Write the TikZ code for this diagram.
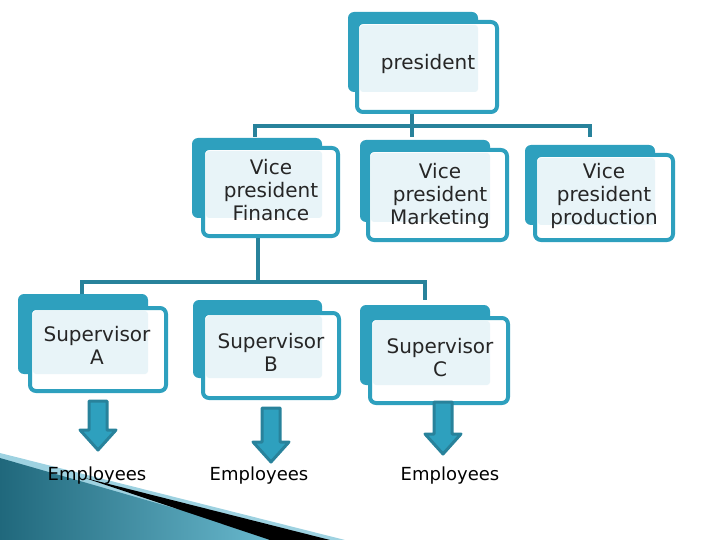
\documentclass[tikz,border=0pt]{standalone}
\usepackage{fontspec}
\setmainfont{DejaVu Sans}
\definecolor{teal1}{RGB}{46,160,190}
\definecolor{teal2}{RGB}{40,130,155}
\definecolor{pale}{RGB}{232,244,248}
\begin{document}
\begin{tikzpicture}[x=1pt,y=-1pt,
  back/.style={fill=teal1,rounded corners=6pt},
  front/.style={draw=teal1,line width=4pt,fill=white,rounded corners=6pt},
  inner/.style={fill=pale,rounded corners=3pt},
  lbl/.style={align=center,font=\fontsize{20}{23}\selectfont,text=black!85},
  conn/.style={draw=teal2,line width=4pt},
  arr/.style={fill=teal1,draw=teal2,line width=3pt,line join=round},
  emp/.style={font=\fontsize{18}{20}\selectfont}]
\useasboundingbox (0,0) rectangle (720,540);
% decoration
\fill[pale!60!teal1] (0,453) -- (345,540) -- (0,540) -- cycle;
\shade[left color=teal2!80!black,right color=teal1!70] (0,458) -- (285,540) -- (0,540) -- cycle;
\fill[black] (85,478) -- (330,540) -- (270,540) -- cycle;
% box macro
\newcommand{\orgbox}[8]{%
  \fill[back] (#1,#2) rectangle (#3,#4);
  \draw[front] (#5,#6) rectangle (#7,#8);
  \fill[inner] (#5+3,#6+3) rectangle (#3,#4);}
\orgbox{348}{12}{478}{92}{357}{22}{497}{112}
\orgbox{192}{138}{322}{218}{203}{148}{338}{236}
\orgbox{360}{140}{490}{222}{368}{150}{507}{240}
\orgbox{525}{145}{655}{225}{535}{155}{673}{240}
\orgbox{18}{294}{148}{374}{30}{308}{166}{391}
\orgbox{193}{300}{322}{378}{203}{313}{339}{398}
\orgbox{360}{305}{490}{385}{370}{318}{508}{403}
\node[lbl] (p) at (428,64) {president};
\node[lbl] (vf) at (271,190) {Vice\\president\\Finance};
\node[lbl] (vm) at (440,196) {Vice\\president\\Marketing};
\node[lbl] (vp) at (604,196) {Vice\\president\\production};
\node[lbl] (sa) at (97,345) {Supervisor\\A};
\node[lbl] (sb) at (271,352) {Supervisor\\B};
\node[lbl] (sc) at (440,358) {Supervisor\\C};
% connectors
\coordinate (pb) at (412,114);
\coordinate (vfb) at (258,238);
\draw[conn] (pb) -- (412,126) -- (255,126) -- (255,137);
\draw[conn] (412,126) -- (590,126) -- (590,137);
\draw[conn] (412,126) -- (412,137);
\draw[conn] (vfb) -- (258,282);
\draw[conn] (82,282) -- (425,282);
\draw[conn] (82,280) -- (82,294);
\draw[conn] (425,280) -- (425,300);
% arrows
\newcommand{\dnarrow}[3]{%
  \draw[arr] (#1-9,#2) -- (#1+9,#2) -- (#1+9,#3-20) -- (#1+18,#3-20) -- (#1,#3) -- (#1-18,#3-20) -- (#1-9,#3-20) -- cycle;}
\dnarrow{98}{401}{450}
\dnarrow{271}{408}{462}
\dnarrow{443}{402}{454}
\node[emp] (ea) at (97,476) {Employees};
\node[emp] (eb) at (259,476) {Employees};
\node[emp] (ec) at (450,476) {Employees};
\end{tikzpicture}
\end{document}
